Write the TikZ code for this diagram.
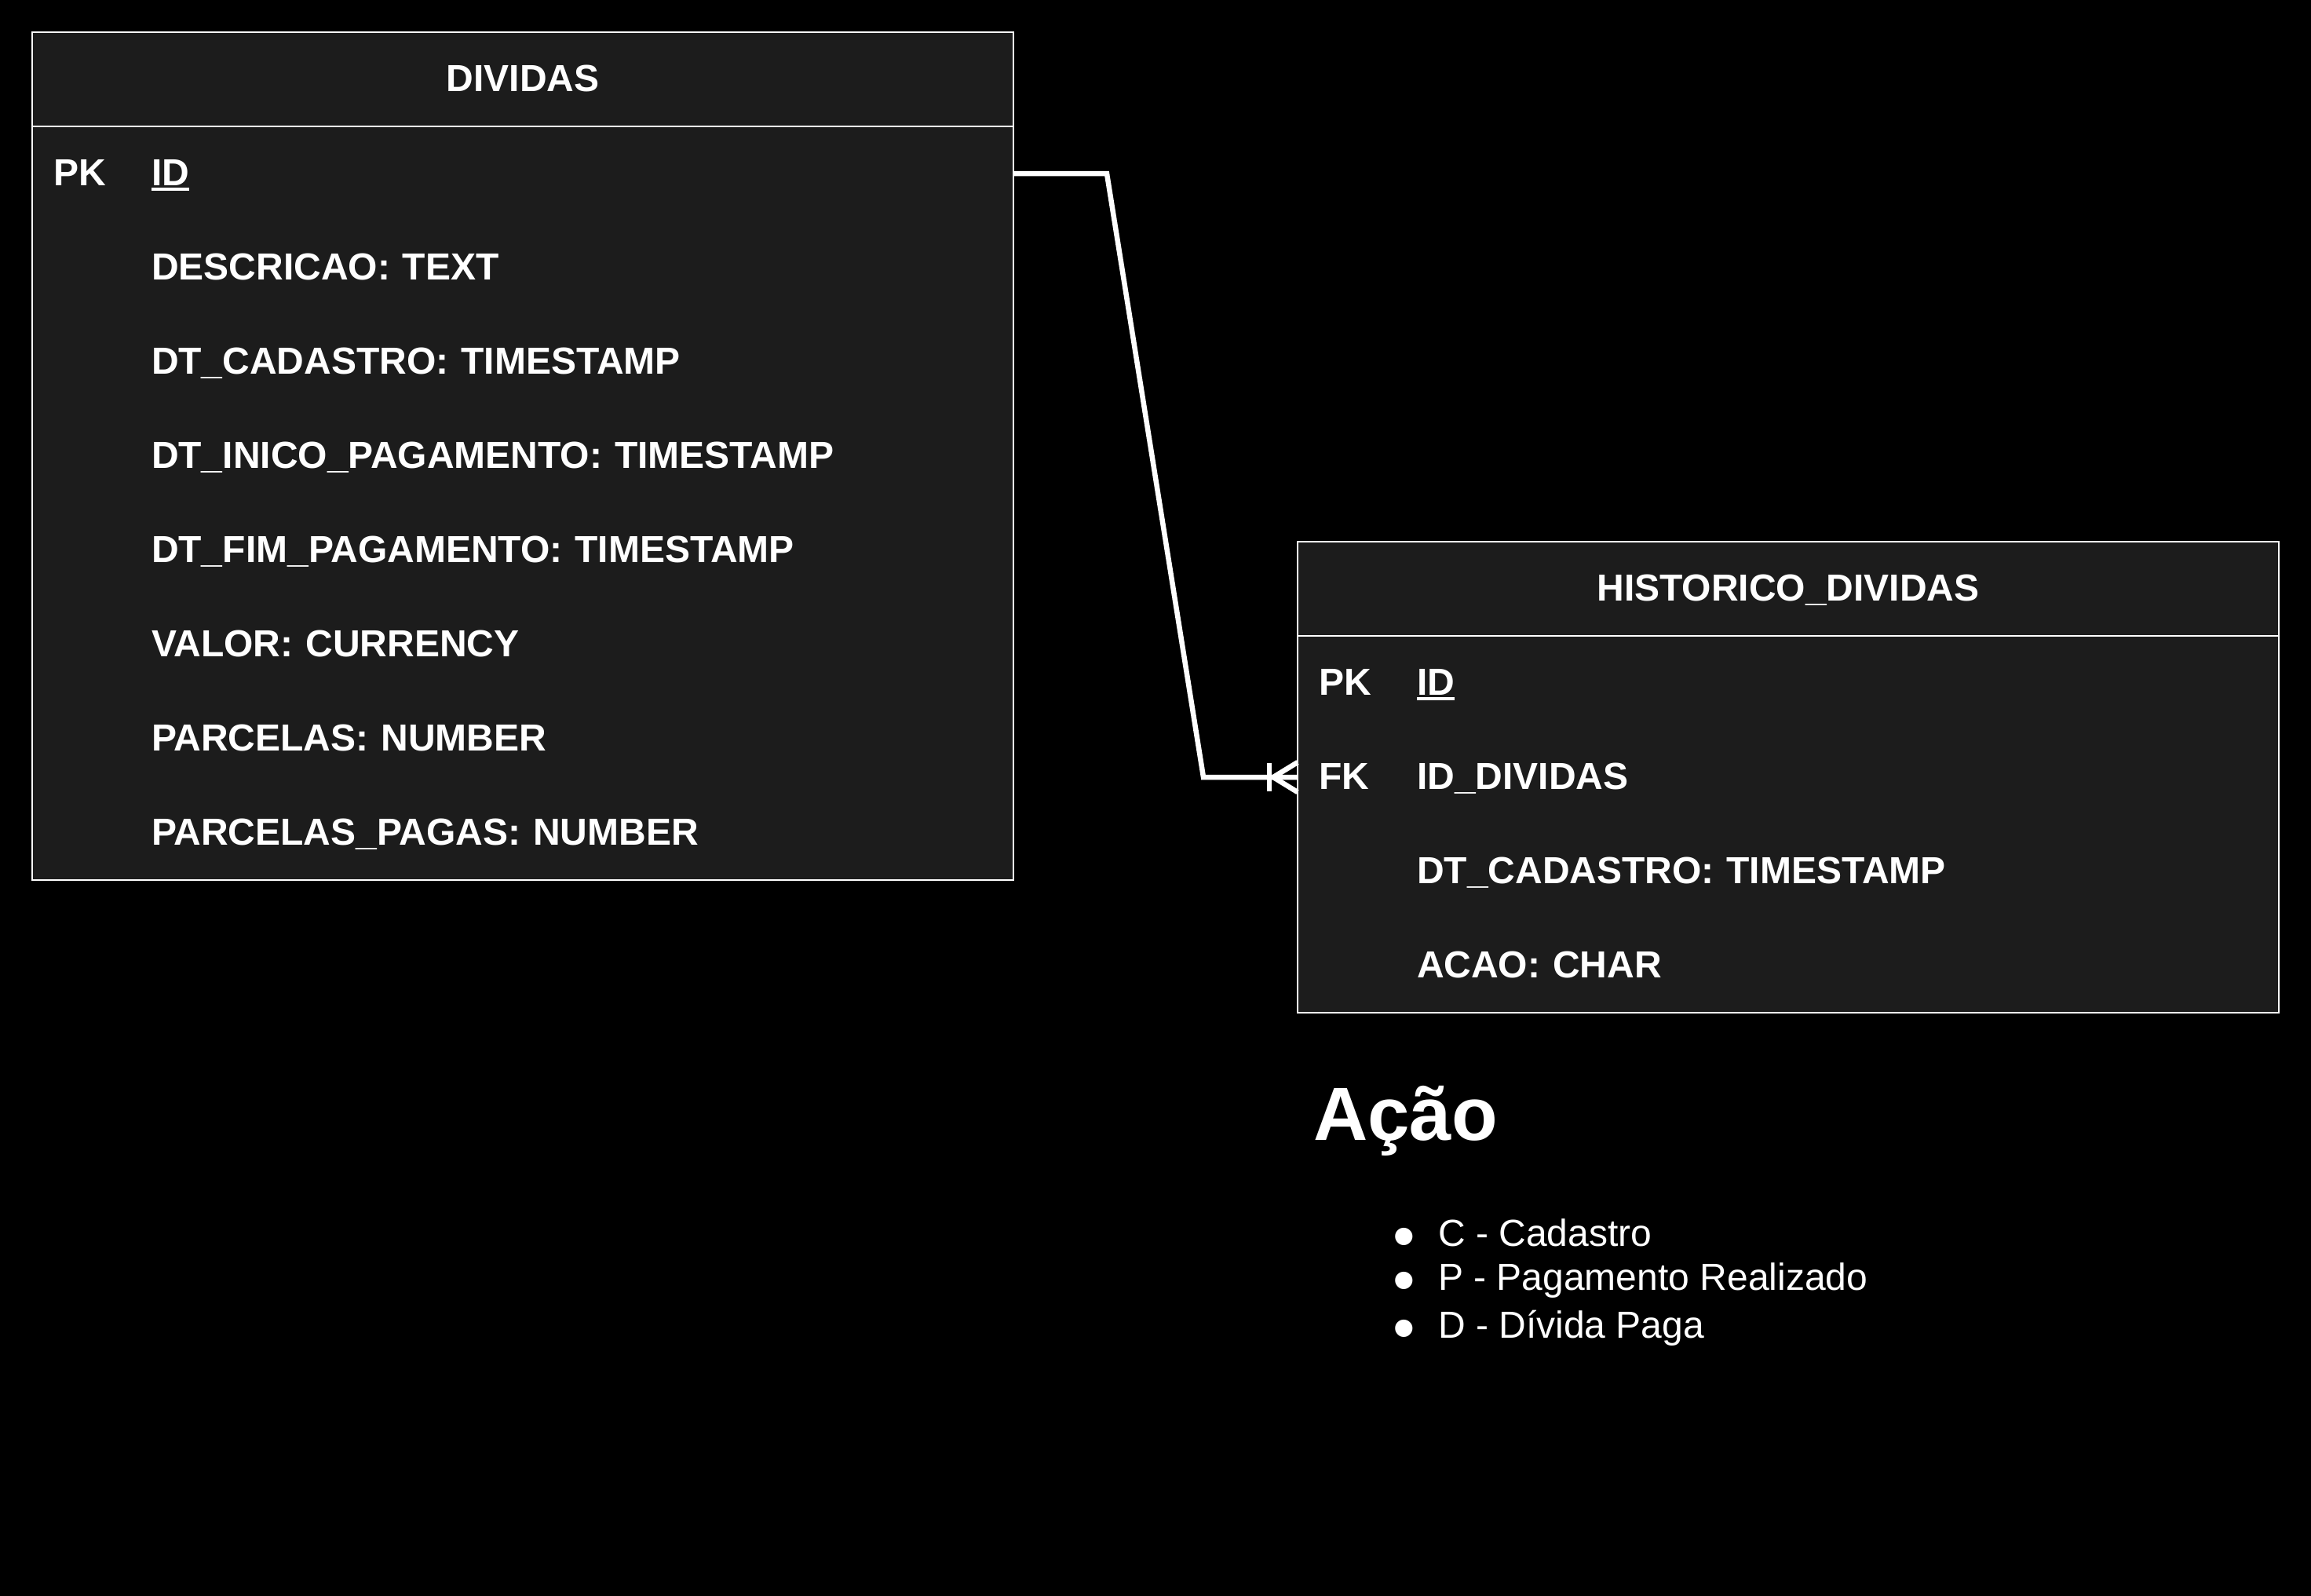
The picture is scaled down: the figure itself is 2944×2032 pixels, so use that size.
\documentclass[tikz,border=0pt]{standalone}
\usepackage{fontspec}
\setmainfont{Liberation Sans}
\usetikzlibrary{positioning}

\definecolor{tablefill}{RGB}{28,28,28}

\newcommand{\keycol}[1]{\makebox[125pt][l]{#1}}
\newcommand{\keyname}[1]{\setbox0\hbox{#1}\rlap{\rule[-7pt]{\wd0}{4pt}}\box0}
\newcommand{\dotbox}{\makebox[58pt][l]{\raisebox{-15pt}[0pt][0pt]{\scalebox{1.7}{\textbullet}}}}

\tikzset{
  basic/.style    = {rectangle, minimum width=1250pt, minimum height=120pt, inner sep=0pt,
                     outer sep=0pt, text=white, fill=tablefill, font=\fontsize{48}{58}\selectfont\bfseries},
  title/.style    = {basic, align=center, text height=30pt, text depth=0pt},
  field/.style    = {basic, inner xsep=27pt, text width=1196pt, align=left, text height=30pt, text depth=0pt},
  frame/.style    = {draw=white, line width=2pt},
  relation/.style = {draw=white, line width=6.5pt},
  entry/.style    = {anchor=base west, inner sep=0pt, text=white, font=\fontsize{48}{58}\selectfont}
}

\begin{document}
\begin{tikzpicture}[x=1pt, y=-1pt]

\useasboundingbox (0,0) rectangle (2944,2032);
\fill[black] (-5,-5) rectangle (2949,2037);

% first table
\node[title, anchor=north west] (dv) at (41,41) {DIVIDAS};

\begin{scope}[every node/.style={field}]
\node [below=0pt of dv] (dv1) {\keycol{PK}\keyname{ID}};
\node [below=0pt of dv1] (dv2) {\keycol{}DESCRICAO: TEXT};
\node [below=0pt of dv2] (dv3) {\keycol{}DT\_CADASTRO: TIMESTAMP};
\node [below=0pt of dv3] (dv4) {\keycol{}DT\_INICO\_PAGAMENTO: TIMESTAMP};
\node [below=0pt of dv4] (dv5) {\keycol{}DT\_FIM\_PAGAMENTO: TIMESTAMP};
\node [below=0pt of dv5] (dv6) {\keycol{}VALOR: CURRENCY};
\node [below=0pt of dv6] (dv7) {\keycol{}PARCELAS: NUMBER};
\node [below=0pt of dv7] (dv8) {\keycol{}PARCELAS\_PAGAS: NUMBER};
\end{scope}

% second table
\node[title, anchor=north west] (hd) at (1653,690) {HISTORICO\_DIVIDAS};

\begin{scope}[every node/.style={field}]
\node [below=0pt of hd] (hd1) {\keycol{PK}\keyname{ID}};
\node [below=0pt of hd1] (hd2) {\keycol{FK}ID\_DIVIDAS};
\node [below=0pt of hd2] (hd3) {\keycol{}DT\_CADASTRO: TIMESTAMP};
\node [below=0pt of hd3] (hd4) {\keycol{}ACAO: CHAR};
\end{scope}

\draw[frame] (dv.north west) rectangle (dv8.south east);
\draw[frame] (dv.south west) -- (dv.south east);
\draw[frame] (hd.north west) rectangle (hd4.south east);
\draw[frame] (hd.south west) -- (hd.south east);

% one to many
\draw[relation] (dv1.east) -- ++(119,0) -- ([xshift=-120pt]hd2.west) -- (hd2.west);
\draw[relation] ([xshift=-36pt,yshift=18pt]hd2.west) -- ([xshift=-36pt,yshift=-18pt]hd2.west);
\foreach \s in {-19,19}
  \draw[relation] ([xshift=-31pt]hd2.west) -- ([yshift=\s pt]hd2.west);

% legend
\node[entry, font=\fontsize{96}{115}\selectfont\bfseries] (acao) at (1673,1452) {Ação};

\begin{scope}[every node/.style={entry}]
\node (acao1) at (1774,1587) {\dotbox C - Cadastro};
\node (acao2) at ([yshift=-56pt]acao1.base west) {\dotbox P - Pagamento Realizado};
\node (acao3) at ([yshift=-61pt]acao2.base west) {\dotbox D - Dívida Paga};
\end{scope}

\end{tikzpicture}
\end{document}
